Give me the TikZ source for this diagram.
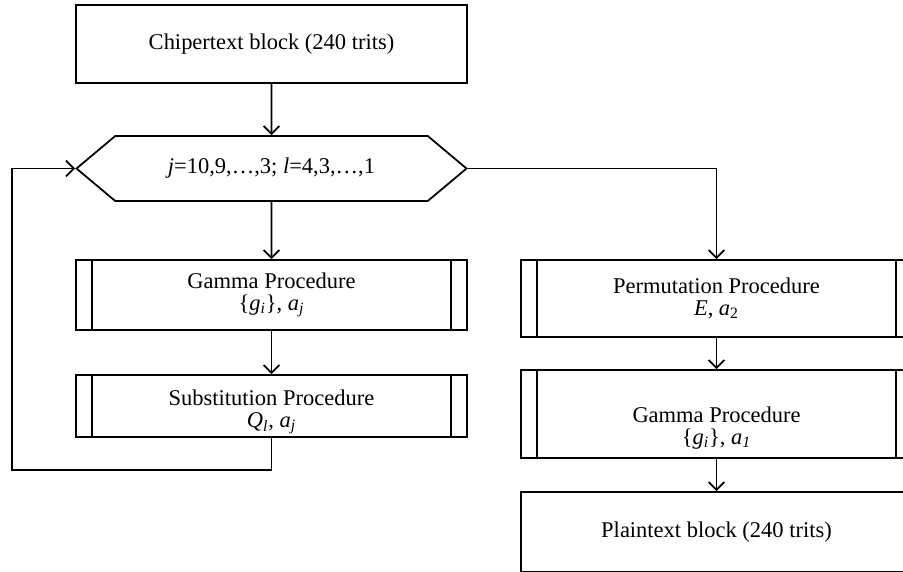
\documentclass[tikz,border=0pt]{standalone}
\usepackage{fontspec}
\setmainfont{Liberation Serif}
\usetikzlibrary{calc, positioning, shapes.symbols, arrows.meta}

\begin{document}
\begin{tikzpicture}[-,auto,node distance=2.5cm,>={Straight Barb[length=4.5pt,width=9pt]},
                    line width=1pt,block/.style={rectangle,draw,minimum width=7.82cm,align=center,font=\fontsize{12.8}{12.6}\selectfont},
                    proc/.style={block,path picture={
                      \draw[-] ([xshift=0.32cm]path picture bounding box.north west) -- ([xshift=0.32cm]path picture bounding box.south west);
                      \draw[-] ([xshift=-0.32cm]path picture bounding box.north east) -- ([xshift=-0.32cm]path picture bounding box.south east);}},
                    loop node/.style={signal,signal to=west and east,signal pointer angle=80,draw,
                      minimum width=7.8cm,minimum height=1.3cm,font=\fontsize{12.8}{13}\selectfont}]

  \useasboundingbox (0,0) rectangle (18.06,-11.42);

  \node[block,minimum height=1.56cm] at (5.43,-0.88) (1) {Chipertext block (240 trits)};
  \node[loop node] (2) [below of=1,node distance=2.49cm]
    {\textit{j}=10,9,\ldots,3; \textit{l}=4,3,\ldots,1};
  \node[proc,minimum height=1.4cm] (3) [below of=2,node distance=2.53cm]
    {Gamma Procedure\\\{\textit{g}\textsubscript{\textit{i}}\}, \textit{a}\textsubscript{\textit{j}}};
  \node[proc,minimum height=1.24cm,inner ysep=1pt] (4) [below of=3,node distance=2.22cm]
    {\rule{0pt}{0.56cm}Substitution Procedure\\\textit{Q}\textsubscript{\textit{l}}, \textit{a}\textsubscript{\textit{j}}};
  \node[proc,minimum height=1.54cm] at (14.33,-5.97) (5)
    {Permutation Procedure\\\textit{E}, \textit{a}\textsubscript{2}};
  \node[proc,minimum height=1.76cm] (6) [below of=5,node distance=2.31cm]
    {\rule{0pt}{0.88cm}Gamma Procedure\\\{\textit{g}\textsubscript{\textit{i}}\}, \textit{a}\textsubscript{\textit{1}}};
  \node[block,minimum height=1.6cm] (7) [below of=6,node distance=2.36cm] {Plaintext block (240 trits)};

  \coordinate (8) at (0.24,-9.4);

  \draw[->] (1) -- (2);
  \draw[->] (2) -- (3);
  \draw[->] (3) -- (4);
  \draw[->] (4.south) |- (8) |- (2.west);
  \draw[->] (2.east) -| (5.north);
  \draw[->] (5) -- (6);
  \draw[->] (6) -- (7);

\end{tikzpicture}
\end{document}
